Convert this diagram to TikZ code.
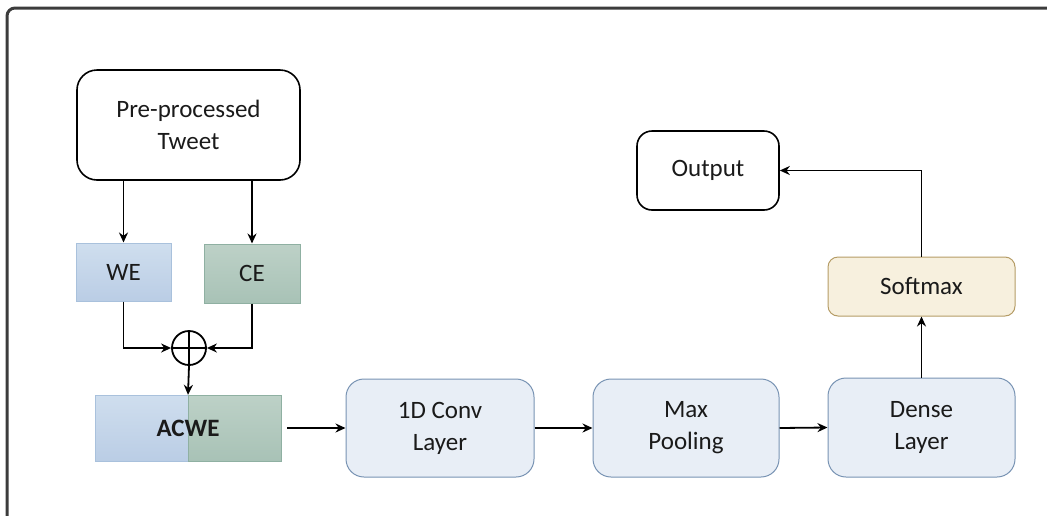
\documentclass[tikz,border=0pt]{standalone}
\usepackage{fontspec}
\setmainfont{Carlito}
\usetikzlibrary{arrows.meta,calc}

\definecolor{frameclr}{HTML}{3C3C3C}
\definecolor{weTop}{HTML}{CFDEEE}
\definecolor{weBot}{HTML}{BACDE5}
\definecolor{weLine}{HTML}{A9C1DC}
\definecolor{ceTop}{HTML}{BDD1C7}
\definecolor{ceBot}{HTML}{A8C2B6}
\definecolor{ceLine}{HTML}{8FB0A2}
\definecolor{layerFill}{HTML}{E8EEF6}
\definecolor{layerLine}{HTML}{7893B3}
\definecolor{softFill}{HTML}{F7F0DE}
\definecolor{softLine}{HTML}{B59C66}
\definecolor{txt}{HTML}{1A1A1A}

\tikzset{
  base/.style={inner sep=0pt, align=center, text=txt,
    font=\fontsize{25}{32}\selectfont},
  plainbox/.style={base, draw=black, line width=1.6pt, fill=white},
  webox/.style={base, draw=weLine, line width=1pt, top color=weTop, bottom color=weBot},
  cebox/.style={base, draw=ceLine, line width=1pt, top color=ceTop, bottom color=ceBot},
  layerbox/.style={base, draw=layerLine, line width=1pt, fill=layerFill,
    rounded corners=18pt, minimum width=188pt, minimum height=98pt},
  softbox/.style={base, draw=softLine, line width=1pt, fill=softFill,
    rounded corners=10pt, minimum width=187pt, minimum height=59pt},
  arr/.style={draw=black, line width=1.8pt, -{Stealth[length=10pt,width=9pt]}},
}

\begin{document}
\begin{tikzpicture}[x=1pt, y=-1pt]
  \useasboundingbox (0,0) rectangle (1047,515);

  % outer frame
  \draw[frameclr, line width=3pt, rounded corners=8pt] (7,8) rectangle (1070,540);

  % input
  \node[plainbox, rounded corners=20pt, minimum width=223pt, minimum height=110pt]
    (tweet) at (188.5,125) {Pre-processed\\Tweet};

  % embeddings
  \node[webox, minimum width=95pt, minimum height=58pt] (we) at (123.5,272) {WE};
  \node[cebox, minimum width=96pt, minimum height=59pt] (ce) at (252,273.5) {CE};

  % concatenation
  \node[draw=black, line width=1.8pt, circle, minimum size=34pt, inner sep=0pt]
    (sum) at (189,348) {};
  \draw[black, line width=1.8pt] (sum.north) -- (sum.south) (sum.west) -- (sum.east);

  % combined embedding
  \node[webox, minimum width=93pt, minimum height=66pt] (acwel) at (141.5,428) {};
  \node[cebox, minimum width=93pt, minimum height=66pt] (acwer) at (234.5,428) {};
  \node[base, minimum width=186pt, minimum height=66pt, font=\fontsize{25}{32}\selectfont\bfseries]
    (acwe) at (188,428) {ACWE};

  % network layers
  \node[layerbox] (conv) at (440,428) {1D Conv\\Layer};
  \node[layerbox, minimum width=186pt] (pool) at (686,428) {Max\\Pooling};
  \node[layerbox, minimum width=187pt, minimum height=99pt] (dense) at (921.5,427.5) {Dense\\Layer};
  \node[softbox] (soft) at (921.5,286.5) {Softmax};
  \node[plainbox, rounded corners=15pt, minimum width=142pt, minimum height=79pt]
    (out) at (708,170.5) {Output};

  % connectors
  \draw[arr] (we |- tweet.south) -- (we.north);
  \draw[arr] (ce |- tweet.south) -- (ce.north);
  \draw[arr] (we.south) |- (sum.west);
  \draw[arr] (ce.south) |- (sum.east);
  \draw[arr] (sum.south) -- (acwe.north);
  \draw[arr, shorten <=6pt] (acwe.east) -- (conv.west);
  \draw[arr] (conv.east) -- (pool.west);
  \draw[arr] (pool.east) -- (dense.west);
  \draw[arr] (dense.north) -- (soft.south);
  \draw[arr] (soft.north) |- (out.east);
\end{tikzpicture}
\end{document}
